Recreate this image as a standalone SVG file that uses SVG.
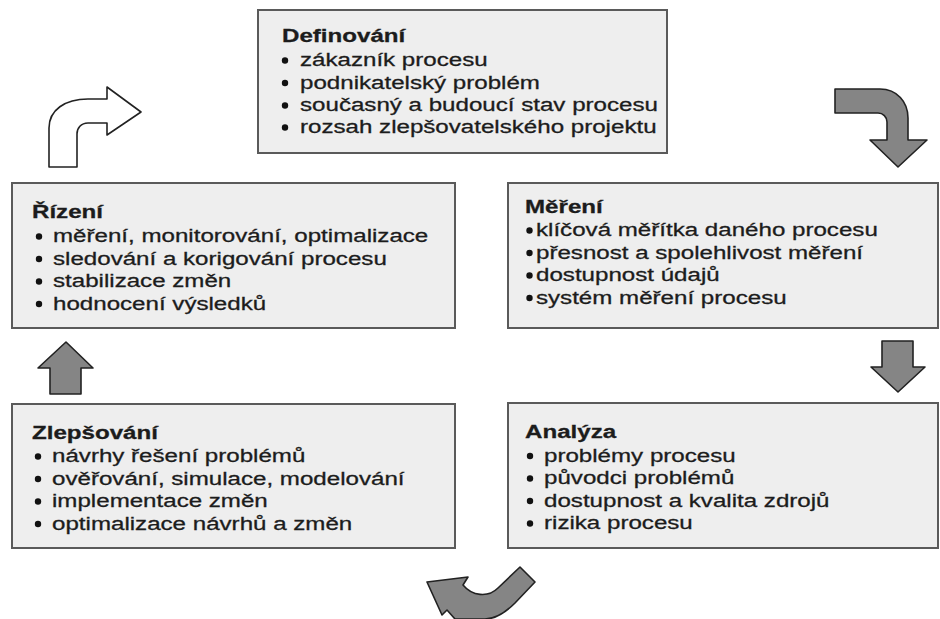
<svg xmlns="http://www.w3.org/2000/svg" width="940" height="619" viewBox="0 0 940 619">
<style>
.box{fill:#eeeeee;stroke:#5a5a5a;stroke-width:2}
.t{font-family:"Liberation Sans",Arial,sans-serif;font-size:19px;fill:#1c1c1c;stroke:#1c1c1c;stroke-width:0.3}
.h{font-weight:bold}
.b{fill:#111}
.ga{fill:#858585;stroke:#222;stroke-width:1.6;stroke-linejoin:round}
.wa{fill:#ffffff;stroke:#222;stroke-width:1.6;stroke-linejoin:round}
</style>
<rect width="940" height="619" fill="#ffffff"/>
<g id="definovani">
<rect class="box" x="258" y="10" width="409" height="143"/>
<text class="t h" transform="translate(282,42) scale(1.27,1)">Definování</text>
<circle class="b" cx="285" cy="60.5" r="3.2"/><text class="t" transform="translate(300,66) scale(1.27,1)">zákazník procesu</text>
<circle class="b" cx="285" cy="83" r="3.2"/><text class="t" transform="translate(300,88.5) scale(1.27,1)">podnikatelský problém</text>
<circle class="b" cx="285" cy="105.5" r="3.2"/><text class="t" transform="translate(300,111) scale(1.27,1)">současný a budoucí stav procesu</text>
<circle class="b" cx="285" cy="127.5" r="3.2"/><text class="t" transform="translate(300,133) scale(1.27,1)">rozsah zlepšovatelského projektu</text>
</g>
<g id="rizeni">
<rect class="box" x="12" y="183" width="443" height="145"/>
<text class="t h" transform="translate(32,218) scale(1.27,1)">Řízení</text>
<circle class="b" cx="39" cy="236.5" r="3.2"/><text class="t" transform="translate(53,242) scale(1.27,1)">měření, monitorování, optimalizace</text>
<circle class="b" cx="39" cy="259" r="3.2"/><text class="t" transform="translate(53,264.5) scale(1.27,1)">sledování a korigování procesu</text>
<circle class="b" cx="39" cy="281.5" r="3.2"/><text class="t" transform="translate(53,287) scale(1.27,1)">stabilizace změn</text>
<circle class="b" cx="39" cy="304" r="3.2"/><text class="t" transform="translate(53,309.5) scale(1.27,1)">hodnocení výsledků</text>
</g>
<g id="mereni">
<rect class="box" x="508" y="183" width="430" height="145"/>
<text class="t h" transform="translate(525,213) scale(1.27,1)">Měření</text>
<circle class="b" cx="529.5" cy="230.5" r="3.2"/><text class="t" transform="translate(536,236) scale(1.27,1)">klíčová měřítka daného procesu</text>
<circle class="b" cx="529.5" cy="253" r="3.2"/><text class="t" transform="translate(536,258.5) scale(1.27,1)">přesnost a spolehlivost měření</text>
<circle class="b" cx="529.5" cy="275.5" r="3.2"/><text class="t" transform="translate(536,281) scale(1.27,1)">dostupnost údajů</text>
<circle class="b" cx="529.5" cy="298" r="3.2"/><text class="t" transform="translate(536,303.5) scale(1.27,1)">systém měření procesu</text>
</g>
<g id="zlepsovani">
<rect class="box" x="12" y="404" width="443" height="144"/>
<text class="t h" transform="translate(32,439) scale(1.27,1)">Zlepšování</text>
<circle class="b" cx="38" cy="456.5" r="3.2"/><text class="t" transform="translate(52,462) scale(1.27,1)">návrhy řešení problémů</text>
<circle class="b" cx="38" cy="479" r="3.2"/><text class="t" transform="translate(52,484.5) scale(1.27,1)">ověřování, simulace, modelování</text>
<circle class="b" cx="38" cy="501.5" r="3.2"/><text class="t" transform="translate(52,507) scale(1.27,1)">implementace změn</text>
<circle class="b" cx="38" cy="524" r="3.2"/><text class="t" transform="translate(52,529.5) scale(1.27,1)">optimalizace návrhů a změn</text>
</g>
<g id="analyza">
<rect class="box" x="508" y="403" width="430" height="145"/>
<text class="t h" transform="translate(525,438) scale(1.27,1)">Analýza</text>
<circle class="b" cx="530" cy="456" r="3.2"/><text class="t" transform="translate(544,461.5) scale(1.27,1)">problémy procesu</text>
<circle class="b" cx="530" cy="478.5" r="3.2"/><text class="t" transform="translate(544,484) scale(1.27,1)">původci problémů</text>
<circle class="b" cx="530" cy="501" r="3.2"/><text class="t" transform="translate(544,506.5) scale(1.27,1)">dostupnost a kvalita zdrojů</text>
<circle class="b" cx="530" cy="523.5" r="3.2"/><text class="t" transform="translate(544,529) scale(1.27,1)">rizika procesu</text>
</g>
<g id="connectors">
<path class="wa" d="M49,167 L49,128 C49,110 65,99 88,99 L107,99 L107,87 L141,112 L107,135 L107,123 L88,123 C81,123 77,128 77,134 L77,167 Z"/>
<path class="ga" d="M835,89 L880,89 C897,89 908,102 908,118 L908,140 L927,140 L898,167 L870,140 L887,140 L887,122 C887,117 883,113 878,113 L835,113 Z"/>
<path class="ga" d="M898,392 L925,367 L913,367 L913,341 L882,341 L882,367 L871,367 Z"/>
<path class="ga" d="M520,567 L535,582 L515,603 C505,613 495,619 485,619 L455,619 L447,610 L442,615 L427,582 L468,577 L463,585 C472,596 488,598 498,588 Z"/>
<path class="ga" d="M66,342 L93,368 L81,368 L81,394 L50,394 L50,368 L38,368 Z"/>
</g>
</svg>
